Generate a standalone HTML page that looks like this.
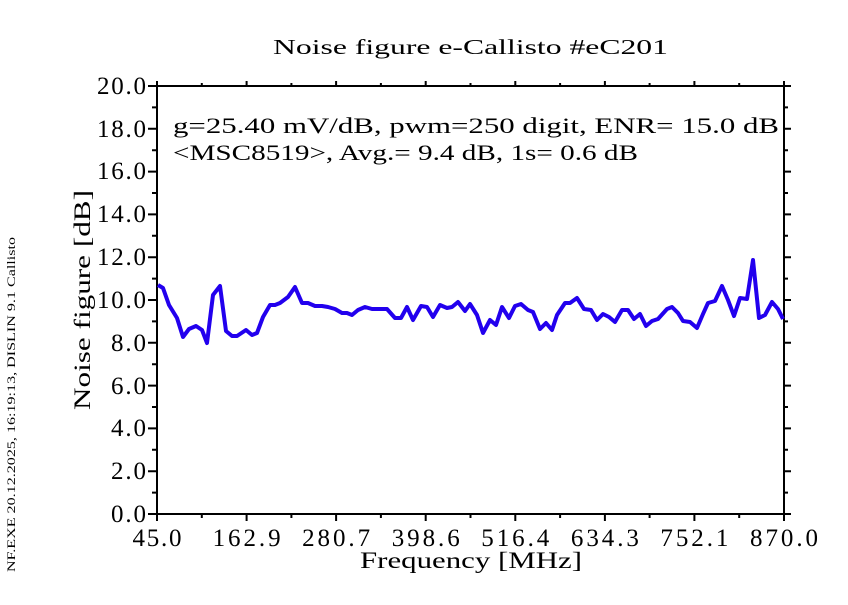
<!DOCTYPE html>
<html><head><meta charset="utf-8"><style>body{margin:0;background:#fff}</style></head><body>
<svg width="848" height="600" viewBox="0 0 848 600" xmlns="http://www.w3.org/2000/svg" font-family="Liberation Serif, serif">
<rect width="848" height="600" fill="#fff"/>
<text x="273" y="54" font-size="21" textLength="395" lengthAdjust="spacingAndGlyphs">Noise figure e-Callisto #eC201</text>
<g stroke="#000" stroke-width="2" fill="none">
<rect x="157" y="86" width="627" height="428"/>
<path d="M157 514h-9M157 471.2h-9M157 428.4h-9M157 385.6h-9M157 342.8h-9M157 300h-9M157 257.2h-9M157 214.4h-9M157 171.6h-9M157 128.8h-9M157 86h-9
M157 492.6h-5M157 449.8h-5M157 407h-5M157 364.2h-5M157 321.4h-5M157 278.6h-5M157 235.8h-5M157 193h-5M157 150.2h-5M157 107.4h-5
M784 514h7M784 471.2h7M784 428.4h7M784 385.6h7M784 342.8h7M784 300h7M784 257.2h7M784 214.4h7M784 171.6h7M784 128.8h7M784 86h7
M784 492.6h4M784 449.8h4M784 407h4M784 364.2h4M784 321.4h4M784 278.6h4M784 235.8h4M784 193h4M784 150.2h4M784 107.4h4"/>
<path d="M157 514v7M246.6 514v7M336.1 514v7M425.7 514v7M515.3 514v7M604.9 514v7M694.4 514v7M784 514v7
M201.8 514v4M291.4 514v4M380.9 514v4M470.5 514v4M560.1 514v4M649.6 514v4M739.2 514v4
M157 86v-5M246.6 86v-5M336.1 86v-5M425.7 86v-5M515.3 86v-5M604.9 86v-5M694.4 86v-5M784 86v-5
M201.8 86v-3M291.4 86v-3M380.9 86v-3M470.5 86v-3M560.1 86v-3M649.6 86v-3M739.2 86v-3"/>
</g>
<g font-size="25" text-anchor="end" lengthAdjust="spacingAndGlyphs">
<text x="146" y="522" textLength="35">0.0</text><text x="146" y="479" textLength="35">2.0</text><text x="146" y="436" textLength="35">4.0</text><text x="146" y="394" textLength="35">6.0</text><text x="146" y="351" textLength="35">8.0</text><text x="146" y="308" textLength="49">10.0</text><text x="146" y="265" textLength="49">12.0</text><text x="146" y="222" textLength="49">14.0</text><text x="146" y="179" textLength="49">16.0</text><text x="146" y="137" textLength="49">18.0</text><text x="146" y="94" textLength="49">20.0</text>
</g>
<g font-size="25" text-anchor="middle" lengthAdjust="spacingAndGlyphs">
<text x="157" y="546" textLength="49">45.0</text><text x="246.6" y="546" textLength="68">162.9</text><text x="336.1" y="546" textLength="68">280.7</text><text x="425.7" y="546" textLength="68">398.6</text><text x="515.3" y="546" textLength="68">516.4</text><text x="604.9" y="546" textLength="68">634.3</text><text x="694.4" y="546" textLength="68">752.1</text><text x="784" y="546" textLength="68">870.0</text>
</g>
<text x="360" y="568" font-size="23" textLength="222" lengthAdjust="spacingAndGlyphs">Frequency [MHz]</text>
<text transform="translate(90,410) rotate(-90)" font-size="23" textLength="220" lengthAdjust="spacingAndGlyphs">Noise figure [dB]</text>
<text transform="translate(15,572) rotate(-90)" font-size="12" textLength="335" lengthAdjust="spacingAndGlyphs">NF.EXE 20.12.2025, 16:19:13, DISLIN 9.1 Callisto</text>
<text x="173" y="133" font-size="22" textLength="606" lengthAdjust="spacingAndGlyphs">g=25.40 mV/dB, pwm=250 digit, ENR= 15.0 dB</text>
<text x="173" y="160" font-size="22" textLength="465" lengthAdjust="spacingAndGlyphs">&lt;MSC8519&gt;, Avg.= 9.4 dB, 1s= 0.6 dB</text>
<polyline fill="none" stroke="#2200ee" stroke-width="4" stroke-linejoin="round" points="158,285 163,288 169,305 177,318 183,337 189,329 196,326 202,330 207,343 213,295 220,286 226,331 232,336 237,336 246,330 252,335 257,333 263,317 270,305 275,305 280,303 288,297 295,287 302,303 308,303 315,306 322,306 328,307 335,309 342,313 347,313 352,315 358,310 365,307 372,309 378,309 387,309 395,318 401,318 407,307 413,320 421,306 427,307 433,317 440,305 447,308 452,307 458,302 465,311 470,304 477,315 483,333 490,320 496,325 502,307 509,318 515,306 521,304 528,310 533,312 540,329 546,323 552,330 557,315 565,303 570,303 577,298 584,309 591,310 597,320 603,314 609,317 615,322 622,310 628,310 634,319 640,314 646,326 652,321 658,319 667,309 672,307 678,313 683,321 690,322 697,328 703,314 708,303 715,301 722,286 728,300 734,316 740,298 747,299 753,260 759,318 765,315 772,302 778,309 783,319"/>
</svg>
</body></html>
